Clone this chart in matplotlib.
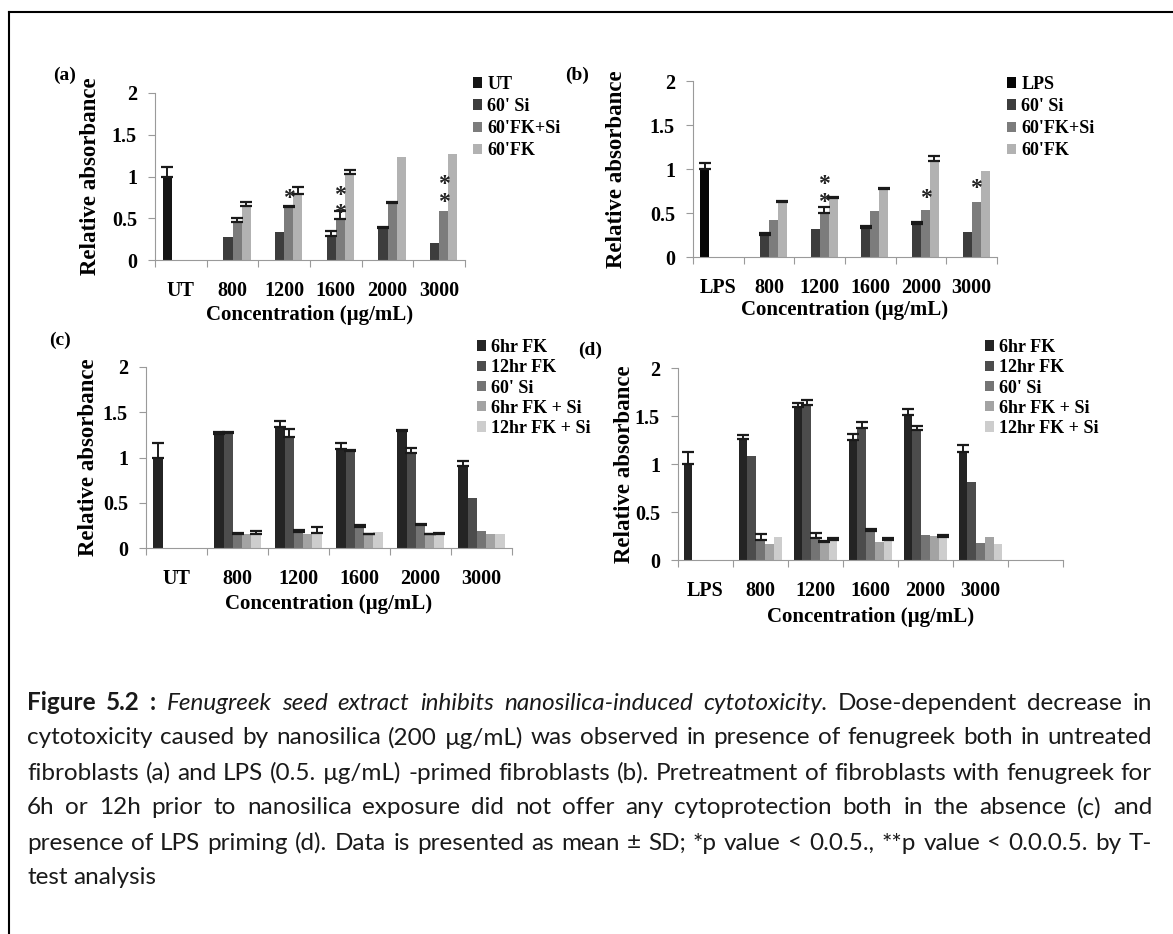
import matplotlib.pyplot as plt
import numpy as np
from matplotlib.lines import Line2D

# figure size in pixels (dpi 100)
W, H = 1173, 934

plt.rcParams['font.family'] = 'Liberation Serif'
plt.rcParams['font.weight'] = 'bold'
plt.rcParams['axes.labelweight'] = 'bold'

# ---------------- data ----------------
# (a) untreated fibroblasts
cats_a = ['UT', '800', '1200', '1600', '2000', '3000']
labels_a = ['UT', "60' Si", "60'FK+Si", "60'FK"]
a_ctrl = [1.00, 0, 0, 0, 0, 0]
a_si = [0, 0.28, 0.33, 0.29, 0.38, 0.20]
a_fksi = [0, 0.45, 0.64, 0.49, 0.68, 0.59]
a_fk = [0, 0.65, 0.79, 1.03, 1.23, 1.27]
a_ctrl_err = [0.11, 0, 0, 0, 0, 0]
a_si_err = [0, 0, 0, 0.06, 0.01, 0]
a_fksi_err = [0, 0.05, 0.01, 0.10, 0.01, 0]
a_fk_err = [0, 0.04, 0.09, 0.05, 0, 0]
# stars: (category, series, number of stars, y of the group centre)
a_stars = [(2, 2, 1, 0.82), (3, 2, 2, 0.75), (5, 2, 2, 0.88)]

# (b) LPS-primed fibroblasts
cats_b = ['LPS', '800', '1200', '1600', '2000', '3000']
labels_b = ['LPS', "60' Si", "60'FK+Si", "60'FK"]
b_ctrl = [1.00, 0, 0, 0, 0, 0]
b_si = [0, 0.25, 0.32, 0.33, 0.38, 0.28]
b_fksi = [0, 0.42, 0.50, 0.52, 0.53, 0.63]
b_fk = [0, 0.63, 0.67, 0.77, 1.09, 0.98]
b_ctrl_err = [0.07, 0, 0, 0, 0, 0]
b_si_err = [0, 0.02, 0, 0.02, 0.02, 0]
b_fksi_err = [0, 0, 0.07, 0, 0, 0]
b_fk_err = [0, 0.01, 0.01, 0.01, 0.06, 0]
b_stars = [(2, 2, 2, 0.80), (4, 2, 1, 0.745), (5, 2, 1, 0.86)]

# (c) pretreatment, no LPS
cats_c = ['UT', '800', '1200', '1600', '2000', '3000']
labels_cd = ['6hr FK', '12hr FK', "60' Si", '6hr FK + Si', '12hr FK + Si']
c_6fk = [1.00, 1.26, 1.34, 1.09, 1.29, 0.91]
c_12fk = [0, 1.27, 1.23, 1.07, 1.05, 0.55]
c_si = [0, 0.16, 0.18, 0.23, 0.25, 0.19]
c_6fksi = [0, 0.15, 0.15, 0.15, 0.15, 0.16]
c_12fksi = [0, 0.16, 0.17, 0.18, 0.15, 0.15]
c_6fk_err = [0.16, 0.02, 0.06, 0.07, 0.01, 0.05]
c_12fk_err = [0, 0.01, 0.08, 0.01, 0.06, 0]
c_si_err = [0, 0.01, 0.02, 0.02, 0.01, 0]
c_6fksi_err = [0, 0, 0, 0.01, 0.01, 0]
c_12fksi_err = [0, 0.03, 0.06, 0, 0.02, 0]

# (d) pretreatment, LPS primed
cats_d = ['LPS', '800', '1200', '1600', '2000', '3000', '']
d_6fk = [1.00, 1.26, 1.59, 1.25, 1.51, 1.12, 0]
d_12fk = [0, 1.08, 1.61, 1.37, 1.35, 0.81, 0]
d_si = [0, 0.21, 0.23, 0.30, 0.26, 0.18, 0]
d_6fksi = [0, 0.17, 0.19, 0.19, 0.25, 0.24, 0]
d_12fksi = [0, 0.24, 0.21, 0.21, 0.24, 0.17, 0]
d_6fk_err = [0.13, 0.04, 0.05, 0.06, 0.06, 0.08, 0]
d_12fk_err = [0, 0, 0.06, 0.07, 0.05, 0, 0]
d_si_err = [0, 0.06, 0.05, 0.02, 0, 0, 0]
d_6fksi_err = [0, 0, 0.01, 0, 0, 0, 0]
d_12fksi_err = [0, 0, 0.02, 0.02, 0.02, 0, 0]

yticks = [0, 0.5, 1, 1.5, 2]
ytick_labels = ['0', '0.5', '1', '1.5', '2']
xlabel = 'Concentration (\u00b5g/mL)'
ylabel = 'Relative absorbance'

caption_lines = [
    [('Figure 5.2 :', 'bold'),
     ('Fenugreek seed extract inhibits nanosilica-induced cytotoxicity.', 'italic'),
     ('Dose-dependent decrease in', 'normal')],
    [('cytotoxicity caused by nanosilica (200 \u00b5g/mL) was observed in presence of fenugreek both in untreated', 'normal')],
    [('fibroblasts (a) and LPS (0.5. \u00b5g/mL) -primed fibroblasts (b). Pretreatment of fibroblasts with fenugreek for', 'normal')],
    [('6h or 12h prior to nanosilica exposure did not offer any cytoprotection both in the absence (c) and', 'normal')],
    [('presence of LPS priming (d). Data is presented as mean \u00b1 SD; *p value < 0.0.5., **p value < 0.0.0.5. by T-', 'normal')],
    [('test analysis', 'normal')],
]

colors4 = ['#151515', '#3d3d3d', '#7c7c7c', '#b2b2b2']
colors5 = ['#242424', '#4c4c4c', '#747474', '#a3a3a3', '#cdcdcd']

fig = plt.figure(figsize=(W / 100, H / 100), dpi=100)


def px_axes(l, t, r, b):
    return fig.add_axes([l / W, 1 - b / H, (r - l) / W, (b - t) / H])


def bar_panel(ax, cats, series, errs, labels, colors, bw):
    n = len(cats)
    x = np.arange(n)
    k = len(series)
    off = (1 - k * bw) / 2
    for j, (vals, err) in enumerate(zip(series, errs)):
        xs = x - 0.5 + off + (j + 0.5) * bw
        vals = np.array(vals, float)
        err = np.array(err, float)
        ax.bar(xs, vals, bw, color=colors[j], label=labels[j], zorder=2)
        m = err > 0
        if m.any():
            ax.errorbar(xs[m], vals[m], yerr=[np.zeros(m.sum()), err[m]], fmt='none',
                        ecolor='#1a1a1a', elinewidth=1.4, capsize=4, capthick=1.6, zorder=3)
    ax.set_xlim(-0.5, n - 0.5)
    ax.set_ylim(0, 2)
    ax.set_yticks(yticks)
    ax.set_yticklabels(ytick_labels)
    ax.set_xticks(np.arange(n + 1) - 0.5)
    ax.set_xticklabels([])
    ax.set_xticks(x, minor=True)
    ax.set_xticklabels(cats, minor=True)
    ax.tick_params(which='major', direction='out', length=5, color='#9a9a9a', labelsize=14.5, pad=8)
    ax.tick_params(axis='x', which='minor', length=0, labelsize=14.5, pad=15)
    for s in ['top', 'right']:
        ax.spines[s].set_visible(False)
    for s in ['left', 'bottom']:
        ax.spines[s].set_color('#9a9a9a')
    return off


def stars(ax, stars_list, off, bw):
    for cat, j, count, y in stars_list:
        xs = cat - 0.5 + off + (j + 0.5) * bw
        ax.annotate('\n'.join(['*'] * count), (xs, y), xytext=(0, -5), textcoords='offset points',
                    ha='center', va='center', fontsize=17, linespacing=0.8, color='#222222')


panels = {
    'a': (155, 93, 465, 260),
    'b': (693, 81, 997, 257),
    'c': (146, 367, 512, 548),
    'd': (678, 368, 1063, 560),
}

ax_a = px_axes(*panels['a'])
off = bar_panel(ax_a, cats_a, [a_ctrl, a_si, a_fksi, a_fk],
                [a_ctrl_err, a_si_err, a_fksi_err, a_fk_err], labels_a, colors4, 0.177)
stars(ax_a, a_stars, off, 0.177)

ax_b = px_axes(*panels['b'])
off = bar_panel(ax_b, cats_b, [b_ctrl, b_si, b_fksi, b_fk],
                [b_ctrl_err, b_si_err, b_fksi_err, b_fk_err], labels_b,
                ['#050505'] + colors4[1:], 0.177)
stars(ax_b, b_stars, off, 0.177)

ax_c = px_axes(*panels['c'])
bar_panel(ax_c, cats_c, [c_6fk, c_12fk, c_si, c_6fksi, c_12fksi],
          [c_6fk_err, c_12fk_err, c_si_err, c_6fksi_err, c_12fksi_err], labels_cd, colors5, 0.151)

ax_d = px_axes(*panels['d'])
bar_panel(ax_d, cats_d, [d_6fk, d_12fk, d_si, d_6fksi, d_12fksi],
          [d_6fk_err, d_12fk_err, d_si_err, d_6fksi_err, d_12fksi_err], labels_cd, colors5, 0.159)

# axis labels, legends, panel letters
label_pos = {  # ylabel x, xlabel y, legend (x, top), legend row spacing, panel letter (x, y)
    'a': (91, 315, (473, 76), 0.28, (65, 75)),
    'b': (617, 310, (1007, 76), 0.28, (577, 75)),
    'c': (88, 604, (477, 339), 0.18, (60, 340)),
    'd': (624, 617, (985, 339), 0.18, (590, 350)),
}
for key, ax in zip('abcd', [ax_a, ax_b, ax_c, ax_d]):
    l, t, r, b = panels[key]
    yx, xy, (lx, ly), lsp, (px, py) = label_pos[key]
    ax.set_ylabel(ylabel, fontsize=16.5, va='center')
    ax.yaxis.set_label_coords((yx - l) / (r - l), 0.5)
    ax.set_xlabel(xlabel, fontsize=15, va='center')
    ax.xaxis.set_label_coords(0.5, (b - xy) / (b - t))
    ax.legend(loc='upper left', bbox_to_anchor=(lx / W, 1 - ly / H), bbox_transform=fig.transFigure,
              frameon=False, fontsize=13, handlelength=0.5, handleheight=0.5, handletextpad=0.3,
              labelspacing=lsp, borderpad=0, borderaxespad=0)
    fig.text(px / W, 1 - py / H, '(%s)' % key, ha='center', va='center', fontsize=14)

# border lines (top and left)
fig.add_artist(Line2D([9 / W, 1], [1 - 12 / H, 1 - 12 / H], transform=fig.transFigure, color='black', lw=1.5))
fig.add_artist(Line2D([9 / W, 9 / W], [0, 1 - 12 / H], transform=fig.transFigure, color='black', lw=1.5))

# justified caption; font size chosen so the longest plain line fills the width
cap_font = 'Lato'
cap_x0, cap_x1 = 27, 1152
cap_y = [703, 738, 773, 808, 843, 878]
renderer = fig.canvas.get_renderer()
probe_w = []
for segs in caption_lines[1:-1]:
    p = fig.text(0, 0, segs[0][0], fontfamily=cap_font, fontsize=10, fontweight='normal')
    probe_w.append(p.get_window_extent(renderer).width)
    p.remove()
cap_size = 10 * (cap_x1 - cap_x0) / max(probe_w) * 0.995

for li, segs in enumerate(caption_lines):
    words = []
    for txt, style in segs:
        for w in txt.split(' '):
            words.append((w, style))
    texts = []
    for w, style in words:
        t = fig.text(0, 1 - cap_y[li] / H, w, fontfamily=cap_font, fontsize=cap_size,
                     fontweight='bold' if style == 'bold' else 'normal',
                     fontstyle='italic' if style == 'italic' else 'normal',
                     va='center', ha='left', color='#1a1a1a')
        texts.append(t)
    widths = [t.get_window_extent(renderer).width for t in texts]
    if li == len(caption_lines) - 1:
        gap = 0.25 * cap_size * 100 / 72
    else:
        gap = (cap_x1 - cap_x0 - sum(widths)) / (len(texts) - 1)
    x = cap_x0
    for t, w in zip(texts, widths):
        t.set_x(x / W)
        x += w + gap

fig.savefig('out.png', dpi=100)
